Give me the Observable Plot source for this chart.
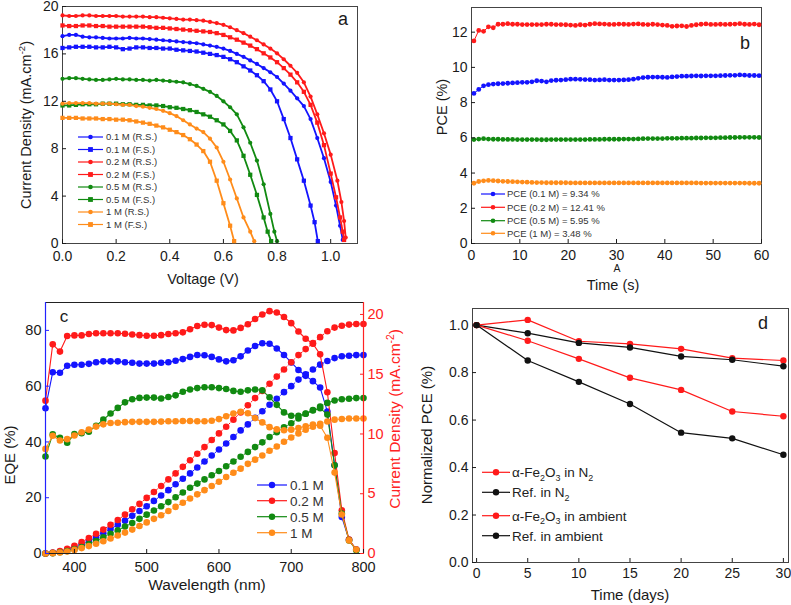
<!DOCTYPE html>
<html><head><meta charset="utf-8">
<script src="https://cdn.jsdelivr.net/npm/d3@7"></script>
<script src="https://cdn.jsdelivr.net/npm/@observablehq/plot@0.6"></script>
<style>
body{margin:0;background:#fff;}
#wrap{position:relative;width:791px;height:605px;background:#fff;overflow:hidden;}
#wrap svg{position:absolute;overflow:visible;}
</style></head><body><div id="wrap"></div><script>
const FONT = '"Liberation Sans", Arial, Helvetica, sans-serif';
const C_BLUE = "#1414ff", C_RED = "#ff1a1a", C_GREEN = "#118a11", C_ORANGE = "#ff8c1a", C_BLACK = "#111";

// ---------- Panel a: J-V curves ----------
const vGrid = [0,0.025,0.05,0.075,0.1,0.125,0.15,0.175,0.2,0.225,0.25,0.275,0.3,0.325,0.35,0.375,0.4,0.425,0.45,0.475,0.5,0.525,0.55,0.575,0.6,0.625,0.65,0.675,0.7,0.725,0.75,0.775,0.8,0.825,0.85,0.875,0.9,0.925,0.95,0.975,1.0];
const jBlueRS = [17.5,17.6,17.6,17.45,17.4,17.4,17.35,17.3,17.3,17.3,17.35,17.3,17.3,17.25,17.2,17.15,17.1,17.05,17.0,16.95,16.9,16.8,16.7,16.6,16.45,16.25,16.0,15.75,15.45,15.15,14.8,14.45,14.05,13.5,12.9,12.25,11.6,10.5,8.9,7.2,5.2,3.2,1.5,0.3];
const vTailBlueRS = [1.02,1.035,1.045];
const jBlueFS = [16.5,16.55,16.6,16.6,16.6,16.55,16.55,16.6,16.55,16.4,16.45,16.55,16.55,16.5,16.5,16.45,16.45,16.35,16.3,16.25,16.2,16.1,16.0,15.9,15.75,15.55,15.3,14.95,14.6,14.2,13.7,13.0,12.0,10.5,8.9,7.1,5.3,3.2,1.8,0.2];
const vTailBlueFS = [0.94,0.952];
const jRedRS = [19.25,19.2,19.2,19.25,19.25,19.2,19.2,19.2,19.2,19.15,19.15,19.15,19.15,19.1,19.1,19.05,19.0,18.95,18.9,18.9,18.85,18.8,18.7,18.6,18.45,18.25,18.0,17.75,17.45,17.15,16.8,16.45,16.05,15.55,15.0,14.4,13.6,12.4,10.9,9.3,7.5,5.3,3.5,1.9,0.5];
const vTailRedRS = [1.025,1.04,1.05,1.056];
const jRedFS = [18.4,18.35,18.35,18.4,18.4,18.35,18.35,18.3,18.3,18.3,18.3,18.3,18.3,18.25,18.2,18.2,18.15,18.1,18.05,18.0,17.95,17.9,17.85,17.75,17.6,17.4,17.2,16.95,16.7,16.4,16.05,15.7,15.3,14.8,14.25,13.6,12.8,11.7,10.2,8.3,5.9,3.9,2.2,1.0,0.3];
const vTailRedFS = [1.02,1.035,1.045,1.05];
const jGreenRS = [13.9,13.95,13.95,13.9,13.85,13.8,13.8,13.85,13.9,13.85,13.85,13.8,13.8,13.75,13.8,13.75,13.7,13.65,13.6,13.45,13.3,13.05,12.8,12.45,12.0,11.5,10.9,9.8,8.5,7.0,5.0,2.5,1.0,0.2];
const vTailGreenRS = [0.79,0.8];
const jGreenFS = [11.65,11.65,11.7,11.75,11.75,11.75,11.8,11.8,11.8,11.75,11.75,11.7,11.7,11.65,11.65,11.6,11.5,11.45,11.35,11.25,11.1,10.9,10.7,10.4,10.05,9.5,8.7,7.4,5.8,4.1,2.2,1.0,0.2];
const vTailGreenFS = [0.765,0.778];
const jOrangeRS = [11.8,11.85,11.85,11.85,11.85,11.8,11.8,11.8,11.75,11.7,11.7,11.6,11.55,11.45,11.35,11.2,11.0,10.75,10.4,10.05,9.7,9.4,8.85,8.1,6.9,5.4,3.8,2.2,1.0,0.2];
const vTailOrangeRS = [0.715];
const jOrangeFS = [10.6,10.6,10.6,10.55,10.55,10.55,10.5,10.5,10.45,10.45,10.4,10.3,10.2,10.1,9.95,9.8,9.6,9.4,9.15,8.8,8.35,7.8,6.9,5.3,3.4,1.5,0.2];
const vTailOrangeFS = [0.64];
const jvLabels = ["0.1 M (R.S.)","0.1 M (F.S.)","0.2 M (R.S.)","0.2 M (F.S.)","0.5 M (R.S.)","0.5 M (F.S.)","1 M (R.S.)","1 M (F.S.)"];
const voltTicks = [0,0.2,0.4,0.6,0.8,1.0];
const jTicks = [0,4,8,12,16,20];

// ---------- Panel b: PCE vs time ----------
const pceTime = [0.5,1.5,2.5,3.5,4.5,5.5,6.5,7.5,8.5,9.5,10.5,11.5,12.5,13.5,14.5,15.5,16.5,17.5,18.5,19.5,20.5,21.5,22.5,23.5,24.5,25.5,26.5,27.5,28.5,29.5,30.5,31.5,32.5,33.5,34.5,35.5,36.5,37.5,38.5,39.5,40.5,41.5,42.5,43.5,44.5,45.5,46.5,47.5,48.5,49.5,50.5,51.5,52.5,53.5,54.5,55.5,56.5,57.5,58.5,59.5];
const pce01 = [8.52,8.75,8.95,9.02,9.05,9.07,9.08,9.1,9.12,9.13, 9.15,9.15,9.18,9.24,9.22,9.18,9.25,9.27,9.28,9.3, 9.33,9.33,9.32,9.31,9.3,9.28,9.29,9.3,9.28,9.28, 9.28,9.29,9.3,9.33,9.38,9.42,9.44,9.45,9.45,9.44, 9.43,9.46,9.48,9.5,9.5,9.51,9.52,9.51,9.52,9.52, 9.52,9.53,9.54,9.55,9.55,9.57,9.56,9.54,9.54,9.53];
const pce02 = [11.5,12.1,12.05,12.3,12.25,12.45,12.45,12.48,12.45,12.45, 12.43,12.43,12.43,12.43,12.43,12.45,12.45,12.43,12.43,12.42, 12.4,12.38,12.42,12.4,12.45,12.48,12.47,12.46,12.44,12.44, 12.46,12.45,12.44,12.46,12.47,12.44,12.43,12.45,12.43,12.4, 12.38,12.33,12.35,12.36,12.32,12.38,12.42,12.45,12.47,12.44, 12.44,12.45,12.44,12.45,12.46,12.48,12.45,12.44,12.46,12.42];
const pce05 = [5.9,5.93,5.95,5.93,5.92,5.92,5.91,5.91,5.91,5.9, 5.9,5.9,5.9,5.9,5.89,5.89,5.9,5.9,5.9,5.9, 5.9,5.9,5.9,5.9,5.91,5.91,5.91,5.92,5.92,5.92, 5.92,5.93,5.93,5.93,5.94,5.95,5.96,5.96,5.96,5.96, 5.97,5.97,5.97,5.98,5.98,5.98,5.99,5.99,6.0,6.0, 6.0,6.01,6.01,6.02,6.02,6.03,6.03,6.03,6.03,6.02];
const pce1 = [3.42,3.52,3.56,3.58,3.57,3.55,3.53,3.52,3.51,3.5, 3.49,3.48,3.47,3.46,3.46,3.45,3.45,3.45,3.45,3.45, 3.44,3.44,3.44,3.44,3.44,3.44,3.44,3.44,3.44,3.44, 3.44,3.44,3.44,3.44,3.44,3.44,3.44,3.44,3.44,3.44, 3.44,3.44,3.44,3.44,3.44,3.44,3.44,3.43,3.43,3.43, 3.43,3.43,3.43,3.43,3.43,3.43,3.43,3.42,3.42,3.42];
const pceLabels = ["PCE (0.1 M) = 9.34 %","PCE (0.2 M) = 12.41 %","PCE (0.5 M) = 5.95 %","PCE (1 M) = 3.48 %"];
const timeTicks = [0,10,20,30,40,50,60];
const pceTicks = [0,2,4,6,8,10,12];

// ---------- Panel c: EQE and integrated current ----------
const eqeWl = [360,370,380,390,400,410,420,430,440,450,460,470,480,490,500,510,520,530,540,550,560,570,580,590,600,610,620,630,640,650,660,670,680,690,700,710,720,730,740,750,760,770,780,790];
const eqe01 = [52.1,65,64.8,67.3,67.7,67.7,68,68.6,68.9,68.9,68.9,68.6,68.4,68.1,68.1,68.1,68.4,68.6,69.1,69.7,70.5,71.2,71.1,70.5,69.6,68.9,69.3,70.7,72.8,74.4,75.4,75.2,73.5,71.2,68.5,65.8,63.7,61.8,59.5,50.9,31.6,13.1,4.9,1.4];
const eqe02 = [54.8,75,72.4,78,78.2,78.2,78.7,79,79,79,79,78.8,78.5,78.3,78.1,78.1,78.3,78.7,79,79.3,80.4,81.6,82,81.9,81,80.1,80,80.9,82.2,84.1,85.7,86.9,86.4,84.8,82.6,79.6,77,75.2,71.4,57.8,36,15.5,5,1.4];
const eqe05 = [34.8,42.7,41.5,39.7,42.8,43.1,43.7,45.8,48,50.2,52.2,54.2,55.3,55.8,55.9,55.9,55.6,56.1,56.7,58,58.8,59.3,59.6,59.6,59.3,59,58.3,58,58.5,58.8,58.5,56,53.3,50.6,49.4,49.4,50.1,51.3,52.1,49.8,31.6,14.3,4.7,1.2];
const eqe1 = [37.5,42.2,40.5,41,42.3,43.5,44.4,45.5,46.3,46.8,46.9,47.1,47.2,47.2,47.2,47.2,47.3,47.4,47.4,47.5,47.5,47.4,47.4,47.6,48.2,49.2,50.2,50.8,50.3,48.6,47,45.3,44.5,44.2,44.4,45,45.6,46.2,45.8,41.5,29,14,4.7,1.4];
const jscWl = [360,370,380,390,400,410,420,430,440,450,460,470,480,490,500,510,520,530,540,550,560,570,580,590,600,610,620,630,640,650,660,670,680,690,700,710,720,730,740,750,760,770,780,790,800];
const jsc01 = [0,0.05,0.15,0.3,0.5,0.75,1.05,1.35,1.7,2.05,2.4,2.75,3.15,3.55,3.95,4.4,4.85,5.3,5.8,6.25,6.7,7.2,7.7,8.2,8.7,9.2,9.75,10.3,10.8,11.35,11.9,12.45,12.95,13.5,14.0,14.55,15.0,15.4,15.8,16.1,16.35,16.5,16.55,16.6,16.6];
const jsc02 = [0,0.08,0.2,0.4,0.65,0.95,1.3,1.65,2.0,2.4,2.8,3.25,3.7,4.15,4.65,5.15,5.65,6.2,6.7,7.25,7.8,8.35,8.9,9.5,10.05,10.6,11.2,11.8,12.4,13.0,13.6,14.2,14.8,15.4,16.0,16.6,17.1,17.6,18.1,18.6,18.9,19.05,19.15,19.2,19.2];
const jsc05 = [0,0.03,0.1,0.2,0.35,0.55,0.8,1.05,1.35,1.65,1.95,2.25,2.55,2.9,3.25,3.6,3.95,4.3,4.7,5.1,5.5,5.85,6.2,6.55,6.9,7.3,7.7,8.1,8.5,8.9,9.3,9.75,10.15,10.55,10.9,11.3,11.7,12.0,12.3,12.6,12.8,12.9,12.95,13.0,13.0];
const jsc1 = [0,0.03,0.08,0.17,0.3,0.45,0.62,0.82,1.03,1.25,1.5,1.75,2.0,2.3,2.6,2.9,3.2,3.55,3.9,4.25,4.6,4.95,5.3,5.65,6.0,6.4,6.75,7.1,7.5,7.85,8.2,8.6,8.95,9.35,9.7,10.05,10.35,10.6,10.85,11.05,11.2,11.25,11.3,11.3,11.3];
const concLabels = ["0.1 M","0.2 M","0.5 M","1 M"];
const wlTicks = [400,500,600,700,800];
const eqeTicks = [0,20,40,60,80];
const jscTicks = [0,5,10,15,20];

// ---------- Panel d: stability ----------
const days = [0,5,10,15,20,25,30];
const feN2 = [1.0,1.022,0.932,0.921,0.900,0.861,0.851];
const refN2 = [1.0,0.966,0.925,0.906,0.868,0.854,0.827];
const feAmb = [1.0,0.934,0.858,0.778,0.727,0.636,0.616];
const refAmb = [1.0,0.851,0.761,0.668,0.547,0.523,0.454];
const dayTicks = [0,5,10,15,20,25,30];
const normTicks = [0,0.2,0.4,0.6,0.8,1.0];

// ---------- helpers ----------
const wrap = document.getElementById("wrap");
function place(svg, left, top) {
  svg.style.left = left + "px"; svg.style.top = top + "px";
  wrap.appendChild(svg); return d3.select(svg);
}
function addLabel(sel, x, y, parts, o = {}) {
  const size = o.size || 14;
  const t = sel.append("text")
    .attr("transform", `translate(${x},${y})${o.rotate ? ` rotate(${o.rotate})` : ""}`)
    .attr("text-anchor", o.anchor || "middle")
    .attr("font-family", FONT).attr("font-size", size)
    .attr("fill", o.fill || "#1a1a1a");
  let shift = 0;
  for (const p of parts) {
    const [str, kind] = Array.isArray(p) ? p : [p, null];
    const target = kind === "sup" ? -size * 0.42 : kind === "sub" ? size * 0.28 : 0;
    const ts = t.append("tspan").text(str).attr("dy", target - shift);
    if (kind) ts.attr("font-size", size * 0.66);
    shift = target;
  }
  return t;
}
function legendRow(sel, x1, x2, xt, y, color, symbol, r, parts, size, sw, fill) {
  sel.append("line").attr("x1", x1).attr("x2", x2).attr("y1", y).attr("y2", y)
    .attr("stroke", color).attr("stroke-width", sw);
  const xm = (x1 + x2) / 2;
  if (symbol === "square") sel.append("rect").attr("x", xm - r).attr("y", y - r).attr("width", 2 * r).attr("height", 2 * r).attr("fill", color);
  else sel.append("circle").attr("cx", xm).attr("cy", y).attr("r", r).attr("fill", color);
  addLabel(sel, xt, y + size * 0.36, parts, {anchor: "start", size, fill: fill || "#333"});
}
const baseStyle = fs => ({fontFamily: FONT, fontSize: fs + "px", background: "transparent", color: "#1a1a1a", overflow: "visible"});

// ---------- build panel a ----------
function jvRows(js, tail) {
  const vs = vGrid.slice(0, js.length - tail.length).concat(tail);
  return js.map((j, i) => ({v: vs[i], j}));
}
const jvSeries = [
  {data: jvRows(jBlueRS, vTailBlueRS), color: C_BLUE, symbol: "circle"},
  {data: jvRows(jBlueFS, vTailBlueFS), color: C_BLUE, symbol: "square"},
  {data: jvRows(jRedRS, vTailRedRS), color: C_RED, symbol: "circle"},
  {data: jvRows(jRedFS, vTailRedFS), color: C_RED, symbol: "square"},
  {data: jvRows(jGreenRS, vTailGreenRS), color: C_GREEN, symbol: "circle"},
  {data: jvRows(jGreenFS, vTailGreenFS), color: C_GREEN, symbol: "square"},
  {data: jvRows(jOrangeRS, vTailOrangeRS), color: C_ORANGE, symbol: "circle"},
  {data: jvRows(jOrangeFS, vTailOrangeFS), color: C_ORANGE, symbol: "square"}
];
const svgA = Plot.plot({
  width: 395, height: 295, marginLeft: 62, marginRight: 38, marginTop: 6, marginBottom: 52,
  style: baseStyle(14),
  x: {domain: [0, 1.1]}, y: {domain: [0, 20]},
  marks: [
    Plot.frame({stroke: "#444"}),
    ...jvSeries.flatMap(s => [
      Plot.line(s.data, {x: "v", y: "j", stroke: s.color, strokeWidth: 1.8}),
      Plot.dot(s.data, {x: "v", y: "j", fill: s.color, r: s.symbol === "square" ? 2.4 : 2.1, symbol: s.symbol})
    ]),
    Plot.axisX({ticks: voltTicks, tickFormat: d => d.toFixed(1), tickSize: -4, tickPadding: 12, label: null}),
    Plot.axisY({ticks: jTicks, tickSize: -4, tickPadding: 8, label: null})
  ]
});
const gA = place(svgA, 0, 0);
addLabel(gA, 203, 284, ["Voltage (V)"], {size: 14.5});
addLabel(gA, 31, 125, ["Current Density (mA.cm", ["-2", "sup"], ")"], {size: 14.5, rotate: -90});
addLabel(gA, 343, 25, ["a"], {size: 18});
const legYA = [137, 149.5, 162, 174.5, 187, 199.5, 212, 224.5];
jvSeries.forEach((s, i) => legendRow(gA, 78, 103, 106, legYA[i], s.color, s.symbol, s.symbol === "square" ? 2.4 : 2.3, [jvLabels[i]], 9.5, 1.2));

// ---------- build panel b ----------
const pceSeries = [
  {ys: pce01, color: C_BLUE}, {ys: pce02, color: C_RED}, {ys: pce05, color: C_GREEN}, {ys: pce1, color: C_ORANGE}
].map(s => ({...s, data: s.ys.map((y, i) => ({t: pceTime[i], y}))}));
const svgB = Plot.plot({
  width: 396, height: 295, marginLeft: 76, marginRight: 30, marginTop: 7, marginBottom: 52,
  style: baseStyle(14),
  x: {domain: [0, 60]}, y: {domain: [0, 13.4]},
  marks: [
    Plot.frame({stroke: "#444"}),
    ...pceSeries.flatMap(s => [
      Plot.line(s.data, {x: "t", y: "y", stroke: s.color, strokeWidth: 1}),
      Plot.dot(s.data, {x: "t", y: "y", fill: s.color, r: 2.4})
    ]),
    Plot.axisX({ticks: timeTicks, tickSize: -4, tickPadding: 11, label: null}),
    Plot.axisY({ticks: pceTicks, tickSize: -4, tickPadding: 8, label: null})
  ]
});
const gB = place(svgB, 395, 0);
addLabel(gB, 222, 272, ["A"], {size: 10.5});
addLabel(gB, 218, 290, ["Time (s)"], {size: 14.5});
addLabel(gB, 52, 107, ["PCE (%)"], {size: 14.5, rotate: -90});
addLabel(gB, 350, 49, ["b"], {size: 18});
const legYB = [194, 207.3, 220.7, 233.3];
pceSeries.forEach((s, i) => legendRow(gB, 86, 110, 112, legYB[i], s.color, "circle", 2.3, [pceLabels[i]], 9.5, 1.2));

// ---------- build panel c ----------
const KJ = 90 / 21; // right-axis scale factor (mA/cm2 -> EQE axis units)
const cSeries = [
  {eqe: eqe01, jsc: jsc01, color: C_BLUE},
  {eqe: eqe02, jsc: jsc02, color: C_RED},
  {eqe: eqe05, jsc: jsc05, color: C_GREEN},
  {eqe: eqe1, jsc: jsc1, color: C_ORANGE}
].map(s => ({...s,
  eqeData: s.eqe.map((y, i) => ({x: eqeWl[i], y})),
  jscData: s.jsc.map((y, i) => ({x: jscWl[i], y: y * KJ}))
}));
const svgC = Plot.plot({
  width: 405, height: 310, marginLeft: 45, marginRight: 42, marginTop: 7, marginBottom: 52,
  style: baseStyle(14.5),
  x: {domain: [360, 800]}, y: {domain: [0, 90]},
  marks: [
    ...cSeries.flatMap(s => [
      Plot.line(s.eqeData, {x: "x", y: "y", stroke: s.color, strokeWidth: 1.1}),
      Plot.dot(s.eqeData, {x: "x", y: "y", fill: s.color, r: 3.3}),
      Plot.line(s.jscData, {x: "x", y: "y", stroke: s.color, strokeWidth: 1, strokeDasharray: "1.5,2"}),
      Plot.dot(s.jscData, {x: "x", y: "y", fill: s.color, r: 3.3})
    ]),
    Plot.ruleY([90], {stroke: "#222"}),
    Plot.ruleY([0], {stroke: "#222"}),
    Plot.ruleX([360], {stroke: "#2222ff", strokeWidth: 1.2}),
    Plot.ruleX([800], {stroke: "#ff2222", strokeWidth: 1.2}),
    Plot.axisX({ticks: wlTicks, tickSize: -4, tickPadding: 12, label: null}),
    Plot.axisY({ticks: eqeTicks, tickSize: -4, tickPadding: 8, label: null, stroke: "#2222ff", fill: "#1a1a1a"}),
    Plot.axisY(jscTicks.map(v => v * KJ), {anchor: "right", tickFormat: d => String(Math.round(d / KJ)), tickSize: -4, tickPadding: 8, label: null, stroke: "#ff2222", fill: "#ff2222"})
  ]
});
const gC = place(svgC, 0, 295);
addLabel(gC, 207, 295, ["Wavelength (nm)"], {size: 15.5});
addLabel(gC, 15, 160, ["EQE (%)"], {size: 15, rotate: -90});
addLabel(gC, 400, 124, ["Current Density (mA.cm", ["-2", "sup"], ")"], {size: 15.5, rotate: -90, fill: "#ff2222"});
addLabel(gC, 64, 27, ["c"], {size: 17});
const legYC = [190, 205.7, 221.7, 237.7];
cSeries.forEach((s, i) => legendRow(gC, 257, 287, 290, legYC[i], s.color, "circle", 3.2, [concLabels[i]], 13.5, 1.2));

// ---------- build panel d ----------
const dSeries = [
  {ys: feN2, color: C_RED, label: ["α-Fe", ["2", "sub"], "O", ["3", "sub"], " in N", ["2", "sub"]]},
  {ys: refN2, color: C_BLACK, label: ["Ref. in N", ["2", "sub"]]},
  {ys: feAmb, color: C_RED, label: ["α-Fe", ["2", "sub"], "O", ["3", "sub"], " in ambient"]},
  {ys: refAmb, color: C_BLACK, label: ["Ref. in ambient"]}
].map(s => ({...s, data: s.ys.map((y, i) => ({x: days[i], y}))}));
const svgD = Plot.plot({
  width: 396, height: 310, marginLeft: 77, marginRight: 3, marginTop: 13, marginBottom: 43,
  style: baseStyle(14),
  x: {domain: [-0.4, 30.5]}, y: {domain: [0, 1.07]},
  marks: [
    Plot.frame({stroke: "#444"}),
    ...dSeries.flatMap(s => [
      Plot.line(s.data, {x: "x", y: "y", stroke: s.color, strokeWidth: 1.2}),
      Plot.dot(s.data, {x: "x", y: "y", fill: s.color, r: 3.2})
    ]),
    Plot.axisX({ticks: dayTicks, tickSize: -4, tickPadding: 10, label: null}),
    Plot.axisY({ticks: normTicks, tickFormat: d => d.toFixed(1), tickSize: -4, tickPadding: 8, label: null})
  ]
});
const gD = place(svgD, 395, 295);
addLabel(gD, 235, 305, ["Time (days)"], {size: 15});
addLabel(gD, 37, 140, ["Normalized PCE (%)"], {size: 15, rotate: -90});
addLabel(gD, 368, 34, ["d"], {size: 18});
const legYD = [177.3, 197.3, 220.7, 240.7];
dSeries.forEach((s, i) => legendRow(gD, 87, 115, 117, legYD[i], s.color, "circle", 3.2, s.label, 13.5, 1.2, "#222"));
</script></body></html>
